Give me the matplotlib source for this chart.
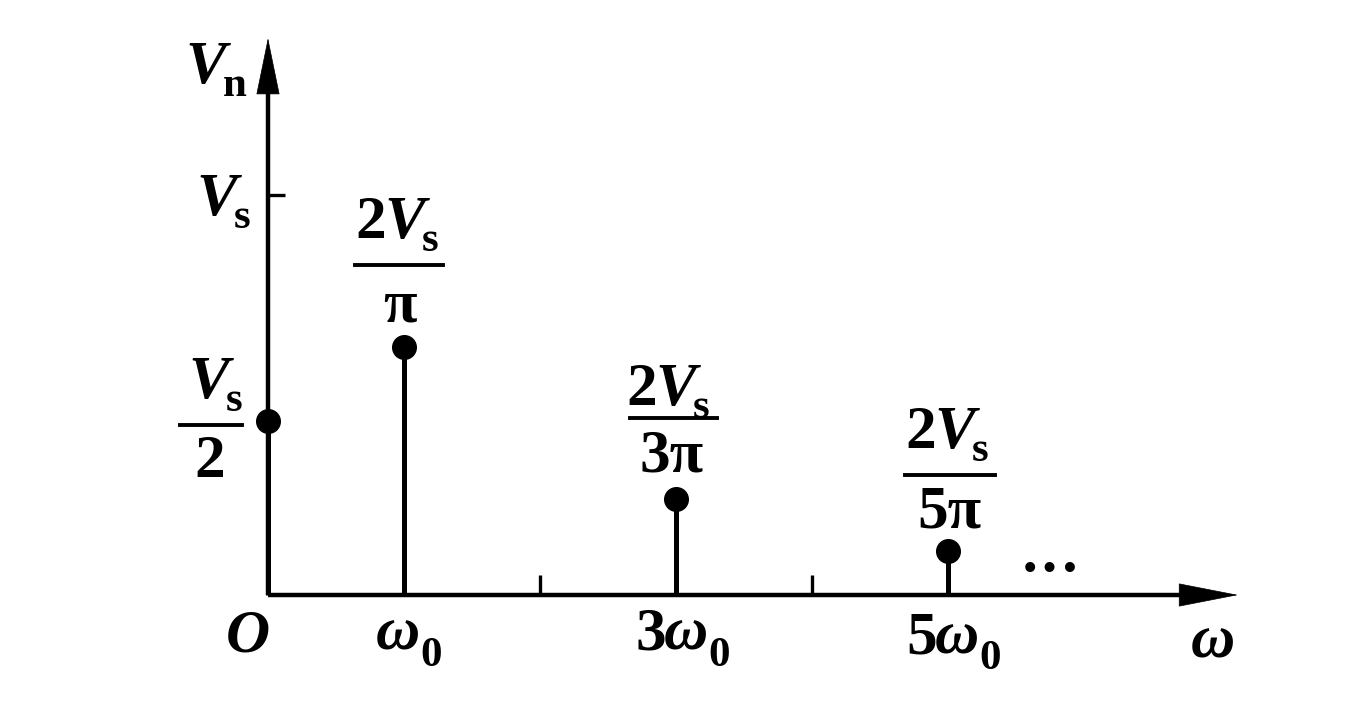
import matplotlib
matplotlib.use("Agg")
import matplotlib.pyplot as plt
from matplotlib.lines import Line2D

# ---- data (amplitudes in units of Vs, as drawn) ----
harmonics = [0, 1, 3, 5]                 # multiples of omega_0
amplitudes = [0.435, 0.62, 0.24, 0.11]   # Vs/2, 2Vs/pi, 2Vs/3pi, 2Vs/5pi (as drawn)
minor_ticks = [2, 4]
vs_level = 1.0
x_tick_labels = ["O", "ω", "3ω", "5ω"]

W, H = 1368, 708
fig = plt.figure(figsize=(W / 100, H / 100), dpi=100)
fig.patch.set_facecolor("white")
ax = fig.add_axes([0, 0, 1, 1])
ax.axis("off")

# pixel mapping: origin at (268, 595), 136 px per omega0, 400 px per Vs
ox, oy, sx, sy = 268.0, 595.0, 136.0, 400.0
ax.set_xlim(-ox / sx, (W - ox) / sx)
ax.set_ylim(-(H - oy) / sy, oy / sy)

def px(x, y):
    return (x / W, 1 - y / H)

lw_axis = 3.2
lw_stem = 3.6
col = "black"

# axes with arrows
x_end = (1238 - ox) / sx
y_end = (oy - 38) / sy
ax.plot([0, x_end - 0.3], [0, 0], color=col, lw=lw_axis, solid_capstyle="butt")
ax.plot([0, 0], [0, y_end - 0.1], color=col, lw=lw_axis, solid_capstyle="butt")
ax.annotate("", xy=(x_end, 0), xytext=(x_end - 0.45, 0),
            arrowprops=dict(arrowstyle="-|>,head_length=4.1,head_width=0.8",
                            mutation_scale=10, color=col, lw=0.5,
                            shrinkA=0, shrinkB=0))
ax.annotate("", xy=(0, y_end), xytext=(0, y_end - 0.15),
            arrowprops=dict(arrowstyle="-|>,head_length=3.9,head_width=0.8",
                            mutation_scale=10, color=col, lw=0.5,
                            shrinkA=0, shrinkB=0))

# ticks
for t in minor_ticks:
    ax.plot([t, t], [0, 0.05], color=col, lw=2.4, solid_capstyle="butt")
ax.plot([0, 17 / sx], [vs_level, vs_level], color=col, lw=2.4, solid_capstyle="butt")

# stems and dots
for h, a in zip(harmonics, amplitudes):
    ax.plot([h, h], [0, a], color=col, lw=lw_stem, solid_capstyle="butt")
    ax.plot([h], [a], "o", color=col, markersize=17)

FONT = "Liberation Serif"
FS = 44
SUB = 31

def txt(x, y, s, size=FS, italic=False, ha="center", va="baseline"):
    fig.text(*px(x, y), s, fontsize=size, family=FONT, weight="bold",
             style="italic" if italic else "normal", ha=ha, va=va)

def vs(x_left, base, sub="s", two=False):
    # draws "[2]V_s" starting at x_left, baseline base
    x = x_left
    if two:
        txt(x, base, "2", ha="left")
        x += 29
    txt(x, base, "V", italic=True, ha="left")
    txt(x + 38, base + 13, sub, size=SUB, ha="left")

def frac_line(x0, x1, y):
    l = Line2D([x0 / W, x1 / W], [1 - y / H, 1 - y / H], transform=fig.transFigure,
               color=col, lw=2.8)
    fig.add_artist(l)

# V_n axis label
vs(185, 83, sub="n")
# Vs tick label
vs(196, 215)
# Vs/2
vs(188, 398)
frac_line(180, 242, 425)
txt(210, 477, "2")
# 2Vs/pi
vs(355, 238, two=True)
frac_line(355, 443, 265)
txt(400, 321, "π")
# 2Vs/3pi
vs(626, 405, two=True)
frac_line(630, 717, 418)
txt(672, 472, "3π")
# 2Vs/5pi
vs(905, 448, two=True)
frac_line(905, 995, 475)
txt(949, 527, "5π")

# x labels
txt(248, 651, "O", italic=True)
def omega_lab(x_left, base, pre=""):
    x = x_left
    if pre:
        txt(x, base, pre, ha="left")
        x += 29
    txt(x, base, "ω", italic=True, ha="left")
    txt(x + 44, base + 16, "0", size=SUB, ha="left")
omega_lab(376, 650)
omega_lab(635, 650, "3")
omega_lab(906, 653, "5")
txt(1213, 658, "ω", italic=True)

# ellipsis
fig.text(*px(1050, 572), "···", fontsize=44, family=FONT, weight="bold",
         ha="center", va="center")

fig.savefig("out.png", dpi=100, facecolor="white")
